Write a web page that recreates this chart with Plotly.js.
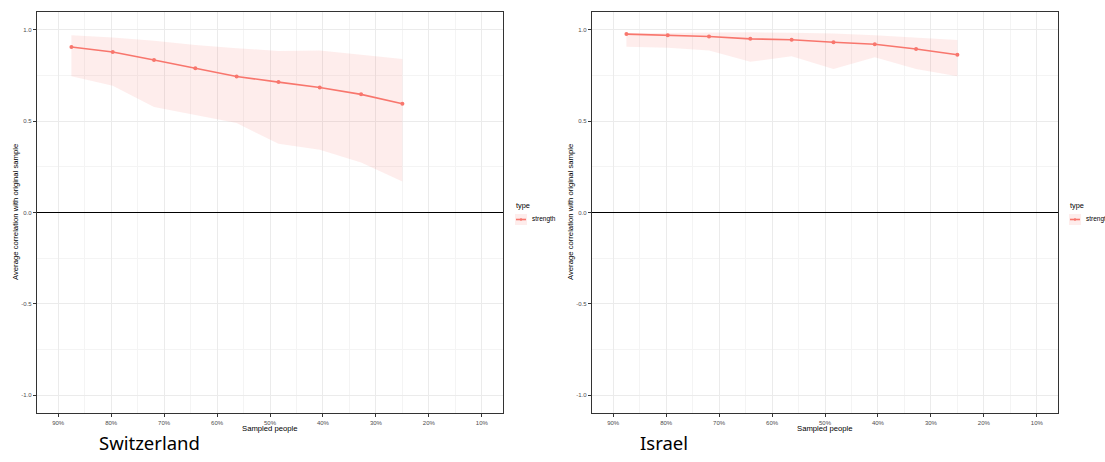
<!DOCTYPE html>
<html>
<head>
<meta charset="utf-8">
<script src="https://cdn.plot.ly/plotly-3.0.1.min.js"></script>
<style>html,body{margin:0;padding:0;background:#fff;}#chart{width:1105px;height:462px;}</style>
</head>
<body>
<div id="chart"></div>
<script>
// Sampled share of people (%), x positions of the points
const sampled = [87.5, 79.7, 71.9, 64.1, 56.3, 48.4, 40.6, 32.8, 25.0];

// Switzerland
const chMean  = [0.906, 0.879, 0.835, 0.790, 0.745, 0.714, 0.685, 0.647, 0.596];
const chUpper = [0.971, 0.959, 0.940, 0.917, 0.900, 0.884, 0.887, 0.862, 0.840];
const chLower = [0.746, 0.694, 0.578, 0.536, 0.490, 0.376, 0.343, 0.274, 0.170];

// Israel
const ilMean  = [0.977, 0.971, 0.964, 0.951, 0.946, 0.932, 0.921, 0.895, 0.864];
const ilUpper = [0.982, 0.984, 0.986, 0.987, 0.984, 0.980, 0.971, 0.959, 0.944];
const ilLower = [0.908, 0.902, 0.887, 0.825, 0.855, 0.786, 0.850, 0.786, 0.746];

const xTicks = [90, 80, 70, 60, 50, 40, 30, 20, 10];
const xTickText = ['90%', '80%', '70%', '60%', '50%', '40%', '30%', '20%', '10%'];
const yTicks = [-1, -0.5, 0, 0.5, 1];
const yTickText = ['-1.0', '-0.5', '0.0', '0.5', '1.0'];

const seriesName = 'strength';
const legendTitle = 'type';
const xTitle = 'Sampled people';
const yTitle = 'Average correlation with original sample';
const panelLabels = ['Switzerland', 'Israel'];

const RED = '#F8766D';
const FILL = 'rgba(248,118,109,0.13)';
const W = 1105, H = 462;
const FONT = 'Liberation Sans, Arial, sans-serif';

function panel(mean, upper, lower, xa, ya) {
  return [
    {x: sampled, y: lower, xaxis: xa, yaxis: ya, mode: 'lines', line: {width: 0, color: FILL},
     showlegend: false, hoverinfo: 'skip'},
    {x: sampled, y: upper, xaxis: xa, yaxis: ya, mode: 'lines', line: {width: 0, color: FILL},
     fill: 'tonexty', fillcolor: FILL, showlegend: false, hoverinfo: 'skip'},
    {x: sampled, y: mean, xaxis: xa, yaxis: ya, mode: 'lines+markers', name: seriesName,
     line: {color: RED, width: 1.6}, marker: {color: RED, size: 4}, showlegend: false}
  ];
}

const data = [].concat(
  panel(chMean, chUpper, chLower, 'x', 'y'),
  panel(ilMean, ilUpper, ilLower, 'x2', 'y2')
);

const tickFont = {family: FONT, size: 6, color: '#4d4d4d'};

function xAxis(domain, anchor) {
  return {
    domain: domain, anchor: anchor, range: [94, 6],
    tickmode: 'array', tickvals: xTicks, ticktext: xTickText,
    tickfont: tickFont, ticks: 'outside', ticklen: 3, tickcolor: '#333', tickwidth: 1,
    showgrid: true, gridcolor: '#ebebeb', gridwidth: 1,
    minor: {tickmode: 'linear', tick0: 5, dtick: 10, showgrid: true, gridcolor: '#f4f4f4', gridwidth: 1, ticks: ''},
    showline: true, mirror: true, linecolor: '#333', linewidth: 1.3,
    zeroline: false, automargin: false
  };
}
function yAxis(domain, anchor) {
  return {
    domain: domain, anchor: anchor, range: [-1.098, 1.098],
    tickmode: 'array', tickvals: yTicks, ticktext: yTickText,
    tickfont: tickFont, ticks: 'outside', ticklen: 3, tickcolor: '#333', tickwidth: 1,
    showgrid: true, gridcolor: '#ebebeb', gridwidth: 1,
    minor: {tickmode: 'linear', tick0: 0.25, dtick: 0.5, showgrid: true, gridcolor: '#f4f4f4', gridwidth: 1, ticks: ''},
    showline: true, mirror: true, linecolor: '#333', linewidth: 1.3,
    zeroline: true, zerolinecolor: '#000', zerolinewidth: 1.4,
    automargin: false
  };
}

const px = v => v / W, py = v => 1 - v / H;
const panels = [
  {left: 37, right: 503, legX: 515, label: 97},
  {left: 592, right: 1058, legX: 1069, label: 638}
];

const annotations = [];
const shapes = [];
panels.forEach((p, i) => {
  const cx = (p.left + p.right) / 2;
  annotations.push(
    {text: xTitle, xref: 'paper', yref: 'paper', x: px(cx), y: py(428), xanchor: 'center', yanchor: 'middle',
     showarrow: false, font: {family: FONT, size: 7.7, color: '#000'}},
    {text: yTitle, xref: 'paper', yref: 'paper', x: px(p.left - 22), y: py(212), xanchor: 'center', yanchor: 'middle',
     textangle: -90, showarrow: false, font: {family: FONT, size: 7.7, color: '#000'}},
    {text: legendTitle, xref: 'paper', yref: 'paper', x: px(p.legX - 1), y: py(205), xanchor: 'left', yanchor: 'middle',
     showarrow: false, font: {family: FONT, size: 7.4, color: '#000'}},
    {text: seriesName, xref: 'paper', yref: 'paper', x: px(p.legX + 15), y: py(219.5), xanchor: 'left', yanchor: 'middle',
     showarrow: false, font: {family: FONT, size: 6.5, color: '#000'}},
    {text: panelLabels[i], xref: 'paper', yref: 'paper', x: px(p.label), y: py(442), xanchor: 'left', yanchor: 'middle',
     showarrow: false, font: {family: 'Noto Sans, sans-serif', size: 18.5, color: '#000'}}
  );
  shapes.push(
    {type: 'rect', xref: 'paper', yref: 'paper', x0: px(p.legX), x1: px(p.legX + 12), y0: py(225), y1: py(214),
     fillcolor: FILL, line: {width: 0}},
    {type: 'line', xref: 'paper', yref: 'paper', x0: px(p.legX + 1), x1: px(p.legX + 11), y0: py(219.5), y1: py(219.5),
     line: {color: RED, width: 1.6}},
    {type: 'circle', xref: 'paper', yref: 'paper', x0: px(p.legX + 4.8), x1: px(p.legX + 7.2), y0: py(220.7), y1: py(218.3),
     fillcolor: RED, line: {width: 0}}
  );
});

const layout = {
  width: W, height: H,
  margin: {l: 0, r: 0, t: 0, b: 0},
  paper_bgcolor: '#fff', plot_bgcolor: '#fff',
  xaxis: xAxis([px(37), px(503)], 'y'),
  yaxis: yAxis([py(413), py(12)], 'x'),
  xaxis2: xAxis([px(592), px(1058)], 'y2'),
  yaxis2: yAxis([py(413), py(12)], 'x2'),
  annotations: annotations,
  shapes: shapes,
  showlegend: false
};

Plotly.newPlot('chart', data, layout, {displayModeBar: false, staticPlot: true});
</script>
</body>
</html>
